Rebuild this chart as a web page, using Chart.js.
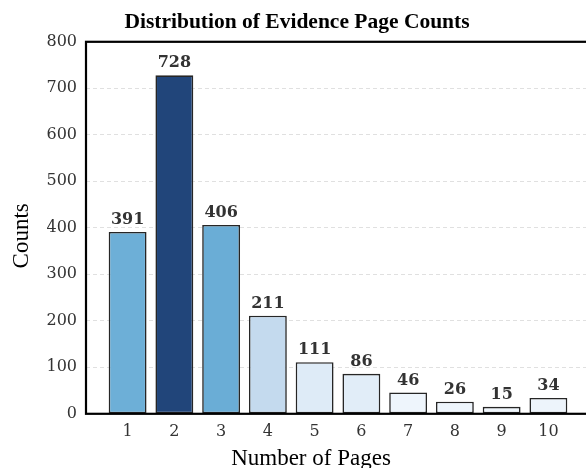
<!DOCTYPE html>
<html>
<head>
<meta charset="utf-8">
<script src="https://cdn.jsdelivr.net/npm/chart.js@4.4.1/dist/chart.umd.min.js"></script>
<style>
  html, body { margin: 0; padding: 0; background: #ffffff; overflow: hidden; }
  #wrap { width: 594px; height: 468px; }
</style>
</head>
<body>
<div id="wrap"><canvas id="c" width="594" height="468"></canvas></div>
<script>
// ---- data ----
const pages = [1, 2, 3, 4, 5, 6, 7, 8, 9, 10];
const counts = [391, 728, 406, 211, 111, 86, 46, 26, 15, 34];
const yTicks = [0, 100, 200, 300, 400, 500, 600, 700, 800];
const titleText = 'Distribution of Evidence Page Counts';
const xTitle = 'Number of Pages';
const yTitle = 'Counts';

// ---- styles ----
const barColors = ['#6dafd7', '#21457a', '#6aadd6', '#c4daee', '#deebf7', '#e1edf8', '#eef5fc', '#eef5fc', '#eff6fc', '#edf4fb'];

const serifTimes = "'Liberation Serif', 'Times New Roman', serif";
const serifDV = "'DejaVu Serif', serif";

const framePlugin = {
  id: 'frame',
  afterDatasetsDraw(chart) {
    const { ctx, chartArea: a } = chart;
    ctx.save();
    // value labels
    const meta = chart.getDatasetMeta(0);
    ctx.font = "bold 16px " + serifDV;
    ctx.fillStyle = '#333333';
    ctx.textAlign = 'center';
    ctx.textBaseline = 'bottom';
    meta.data.forEach((bar, i) => {
      ctx.fillText(String(counts[i]), bar.x, bar.y - 4);
    });
    // frame
    ctx.strokeStyle = '#000000';
    ctx.lineWidth = 2.2;
    ctx.strokeRect(a.left, a.top, a.right - a.left, a.bottom - a.top);
    ctx.restore();
  },
  afterDraw(chart) {
    const { ctx, chartArea: a } = chart;
    ctx.save();
    ctx.fillStyle = '#000000';
    ctx.font = "23px " + serifTimes;
    ctx.textAlign = 'center';
    ctx.textBaseline = 'alphabetic';
    ctx.fillText(xTitle, 311, 465);
    ctx.translate(28, (a.top + a.bottom) / 2 + 8);
    ctx.rotate(-Math.PI / 2);
    ctx.fillText(yTitle, 0, 0);
    ctx.restore();
  }
};

new Chart(document.getElementById('c'), {
  type: 'bar',
  data: {
    datasets: [{
      data: pages.map((p, i) => ({ x: p, y: counts[i] })),
      backgroundColor: barColors,
      borderColor: '#262626',
      borderWidth: 1.6,
      borderSkipped: false,
      barPercentage: 1.0,
      categoryPercentage: 0.81
    }]
  },
  options: {
    responsive: false,
    animation: false,
    devicePixelRatio: 1,
    layout: { padding: { left: 4, right: 4, top: 0, bottom: 19 } },
    plugins: {
      legend: { display: false },
      tooltip: { enabled: false },
      title: {
        display: true,
        text: titleText,
        color: '#000000',
        font: { family: serifTimes, size: 21.5, weight: 'bold' },
        padding: { top: 10, bottom: 6 }
      }
    },
    scales: {
      x: {
        type: 'linear',
        offset: false,
        min: 0.11,
        max: 10.89,
        afterBuildTicks(scale) {
          scale.ticks = pages.map(v => ({ value: v }));
        },
        ticks: {
          color: '#333333',
          font: { family: serifDV, size: 16 },
          padding: 8,
          maxRotation: 0,
          autoSkip: false,
          callback: (v) => String(v)
        },
        grid: { display: false, drawTicks: false },
        border: { display: false }
      },
      y: {
        min: 0,
        max: 800,
        afterBuildTicks(scale) {
          scale.ticks = yTicks.map(v => ({ value: v }));
        },
        afterFit(scale) {
          scale.width = 82;
        },
        ticks: {
          color: '#333333',
          font: { family: serifDV, size: 16 },
          padding: 9
        },
        grid: {
          color: (ctx) => (ctx.tick && (ctx.tick.value === 0 || ctx.tick.value === 800)) ? 'rgba(0,0,0,0)' : '#e0e0e0',
          lineWidth: 1,
          drawTicks: false
        },
        border: { display: false, dash: [4, 3] }
      }
    }
  },
  plugins: [framePlugin]
});
</script>
</body>
</html>
